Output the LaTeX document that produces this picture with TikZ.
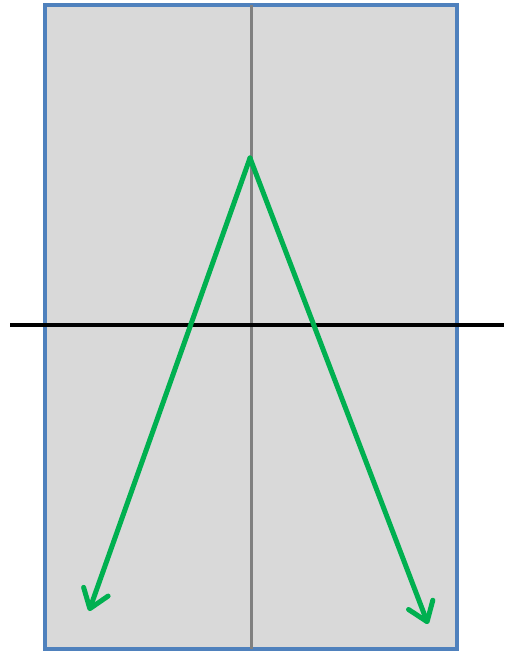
\documentclass[tikz,border=0pt]{standalone}
\usetikzlibrary{arrows.meta}
\definecolor{panelfill}{RGB}{217,217,217}
\definecolor{panelblue}{RGB}{79,129,189}
\definecolor{raygreen}{RGB}{0,176,80}
\definecolor{axisgray}{RGB}{128,128,128}
\begin{document}
\begin{tikzpicture}[x=1pt,y=-1pt,
  panel/.style={fill=panelfill,draw=panelblue,line width=3.5pt},
  axisv/.style={draw=axisgray,line width=3pt},
  axish/.style={draw=black,line width=3.2pt},
  ray/.style={draw=raygreen,line width=5pt,line cap=round,line join=round,
    -{Straight Barb[length=18pt,width=26pt,line cap=round,line join=round]}}]
\useasboundingbox (0,0) rectangle (504,652);
\draw[panel] (45,5) rectangle (457,649);
\coordinate (vt) at (251,5);
\coordinate (vb) at (251,649);
\draw[axisv] (vt) -- (vb);
\coordinate (hl) at (10,325);
\coordinate (hr) at (504,325);
\draw[axish] (hl) -- (hr);
\coordinate (apex) at (250,158);
\coordinate (tipl) at (89,611);
\coordinate (tipr) at (428,624);
\draw[ray] (apex) -- (tipl);
\draw[ray] (apex) -- (tipr);
\end{tikzpicture}
\end{document}
